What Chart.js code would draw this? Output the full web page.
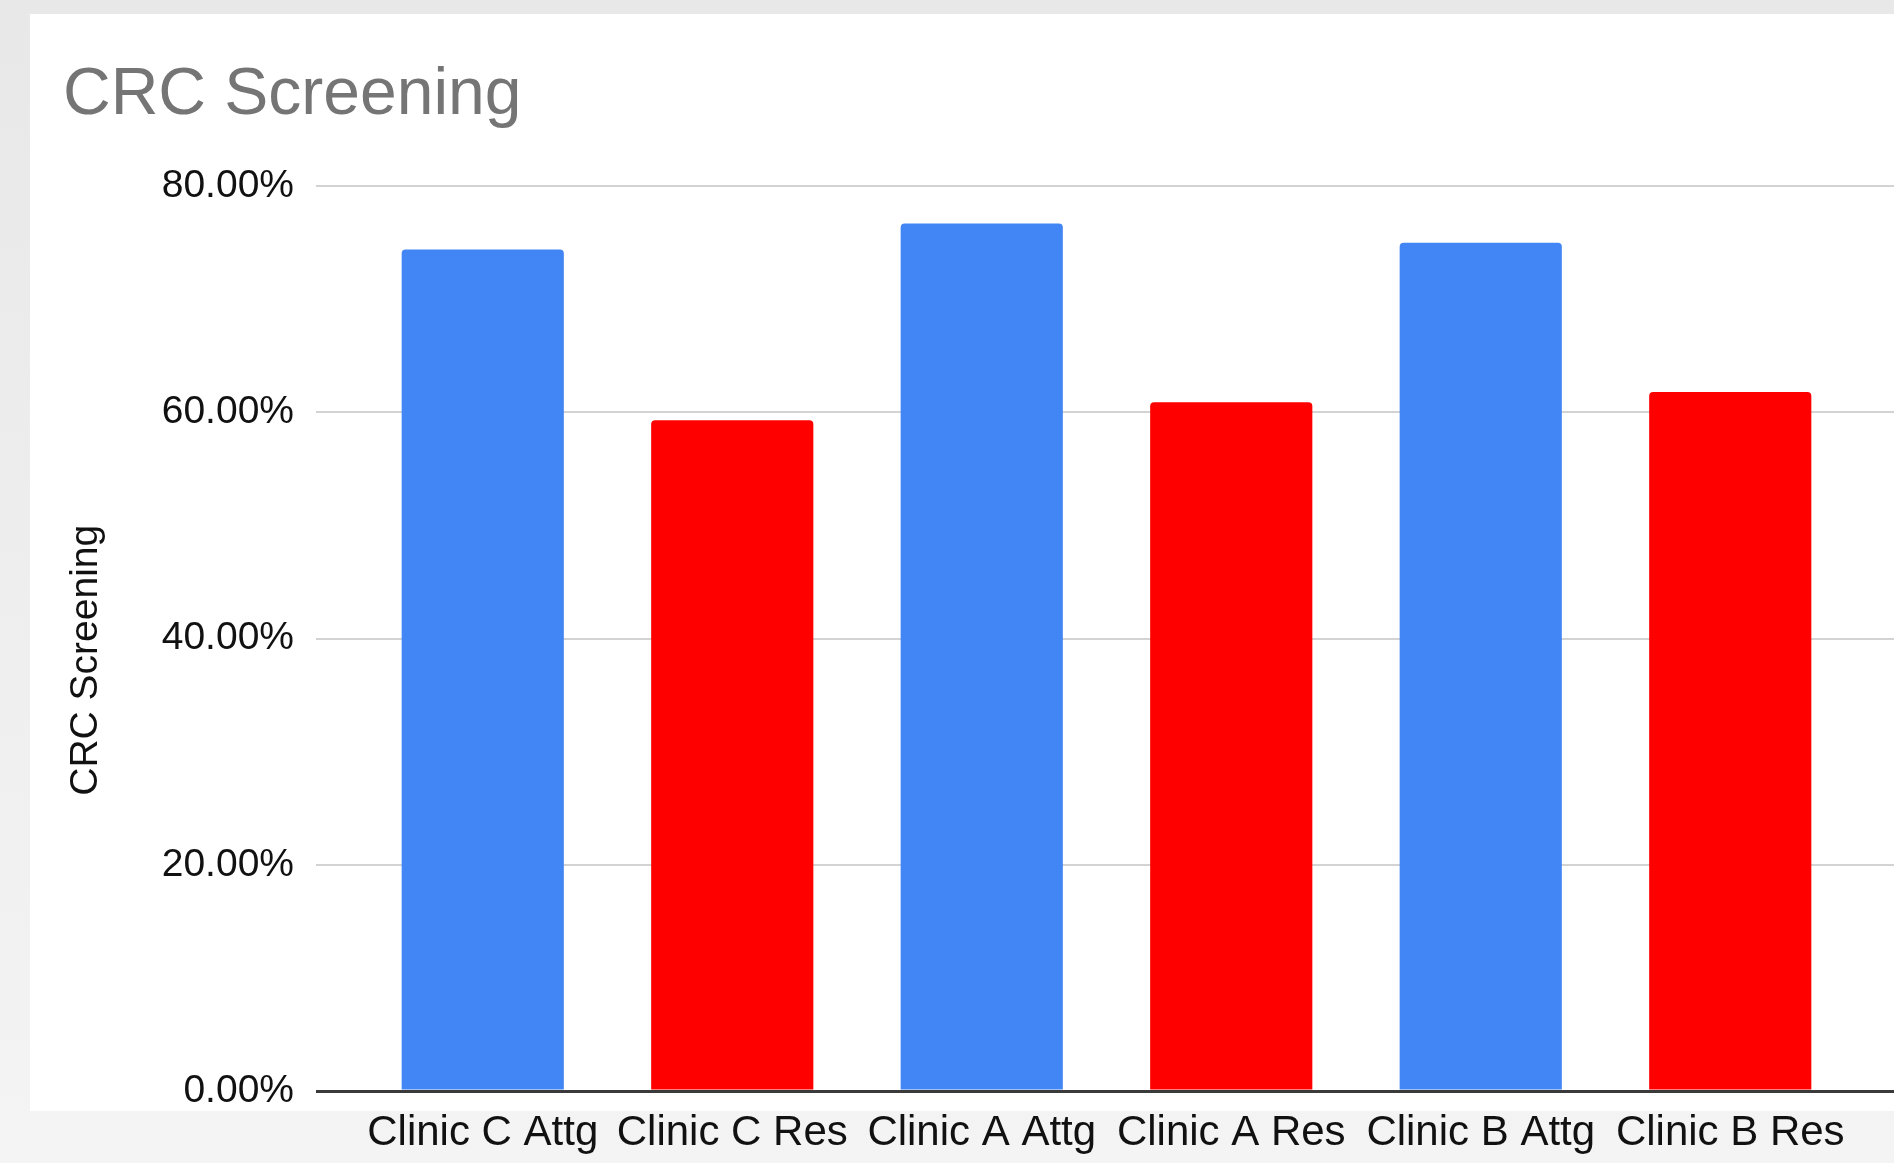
<!DOCTYPE html>
<html>
<head>
<meta charset="utf-8">
<script src="https://cdn.jsdelivr.net/npm/chart.js@4"></script>
<style>
  html, body { margin: 0; padding: 0; width: 1894px; height: 1163px; overflow: hidden; }
  body { background: linear-gradient(#e8e8e8, #f4f4f4); position: relative; }
  #card { position: absolute; left: 30px; top: 14px; right: 0; height: 1097px; background: #fff; }
  #wrap { position: absolute; left: 0; top: 0; width: 1894px; height: 1163px; }
</style>
</head>
<body>
<div id="card"></div>
<div id="wrap"><canvas id="crcChart"></canvas></div>
<script>
// chart values
const categories = ["Clinic C Attg", "Clinic C Res", "Clinic A Attg", "Clinic A Res", "Clinic B Attg", "Clinic B Res"];
const screening = [74.4, 59.3, 76.7, 60.9, 75.0, 61.8];
const barColors = ["#4285F4", "#FF0000", "#4285F4", "#FF0000", "#4285F4", "#FF0000"];
const yTicks = [0, 20, 40, 60, 80];

const font = "'Liberation Sans', Arial, Helvetica, sans-serif";

function gridColor(ctx) {
    return ctx.tick && ctx.tick.value === 0 ? "#3a3a3a" : "#d3d3d3";
}
function gridWidth(ctx) {
    return ctx.tick && ctx.tick.value === 0 ? 3 : 2;
}

let ctx = document.getElementById("crcChart").getContext("2d");
new Chart(ctx, {
    type: "bar",
    data: {
        labels: categories,
        datasets: [{
            label: "CRC Screening",
            data: screening,
            backgroundColor: barColors,
            borderRadius: { topLeft: 4, topRight: 4 },
            borderSkipped: "bottom",
            categoryPercentage: 1,
            barPercentage: 0.65
        }]
    },
    options: {
        responsive: true,
        maintainAspectRatio: false,
        animation: false,
        layout: { padding: { left: 63, top: 16, right: 0, bottom: 0 } },
        plugins: {
            legend: { display: false },
            tooltip: { enabled: false },
            title: {
                display: true,
                text: "CRC Screening",
                align: "start",
                color: "#757575",
                font: { family: font, size: 66, weight: "normal" },
                padding: { top: 40, bottom: 51 }
            }
        },
        scales: {
            x: {
                grid: { display: false, drawTicks: false, tickLength: 0 },
                border: { display: false },
                ticks: {
                    color: "#111111",
                    padding: 17,
                    maxRotation: 0,
                    autoSkip: false,
                    font: { family: font, size: 42 }
                },
                afterFit: s => { s.height = 72; }
            },
            y: {
                min: yTicks[0],
                max: yTicks[yTicks.length - 1],
                border: { display: false },
                grid: { color: gridColor, lineWidth: gridWidth, tickLength: 42 },
                ticks: {
                    stepSize: 20,
                    padding: 22,
                    color: "#111111",
                    font: { family: font, size: 39 },
                    callback: v => v.toFixed(2) + "%"
                },
                title: {
                    display: true,
                    text: "CRC Screening    ",
                    color: "#111111",
                    font: { family: font, size: 39 },
                    padding: 0
                },
                afterFit: s => { s.width = 295; }
            },
            y2: {
                position: "right",
                min: yTicks[0],
                max: yTicks[yTicks.length - 1],
                border: { display: false },
                grid: { color: gridColor, lineWidth: gridWidth, drawOnChartArea: false, tickLength: 39 },
                ticks: { stepSize: 20, display: false },
                afterFit: s => { s.width = 39; }
            }
        }
    }
});
</script>
</body>
</html>
